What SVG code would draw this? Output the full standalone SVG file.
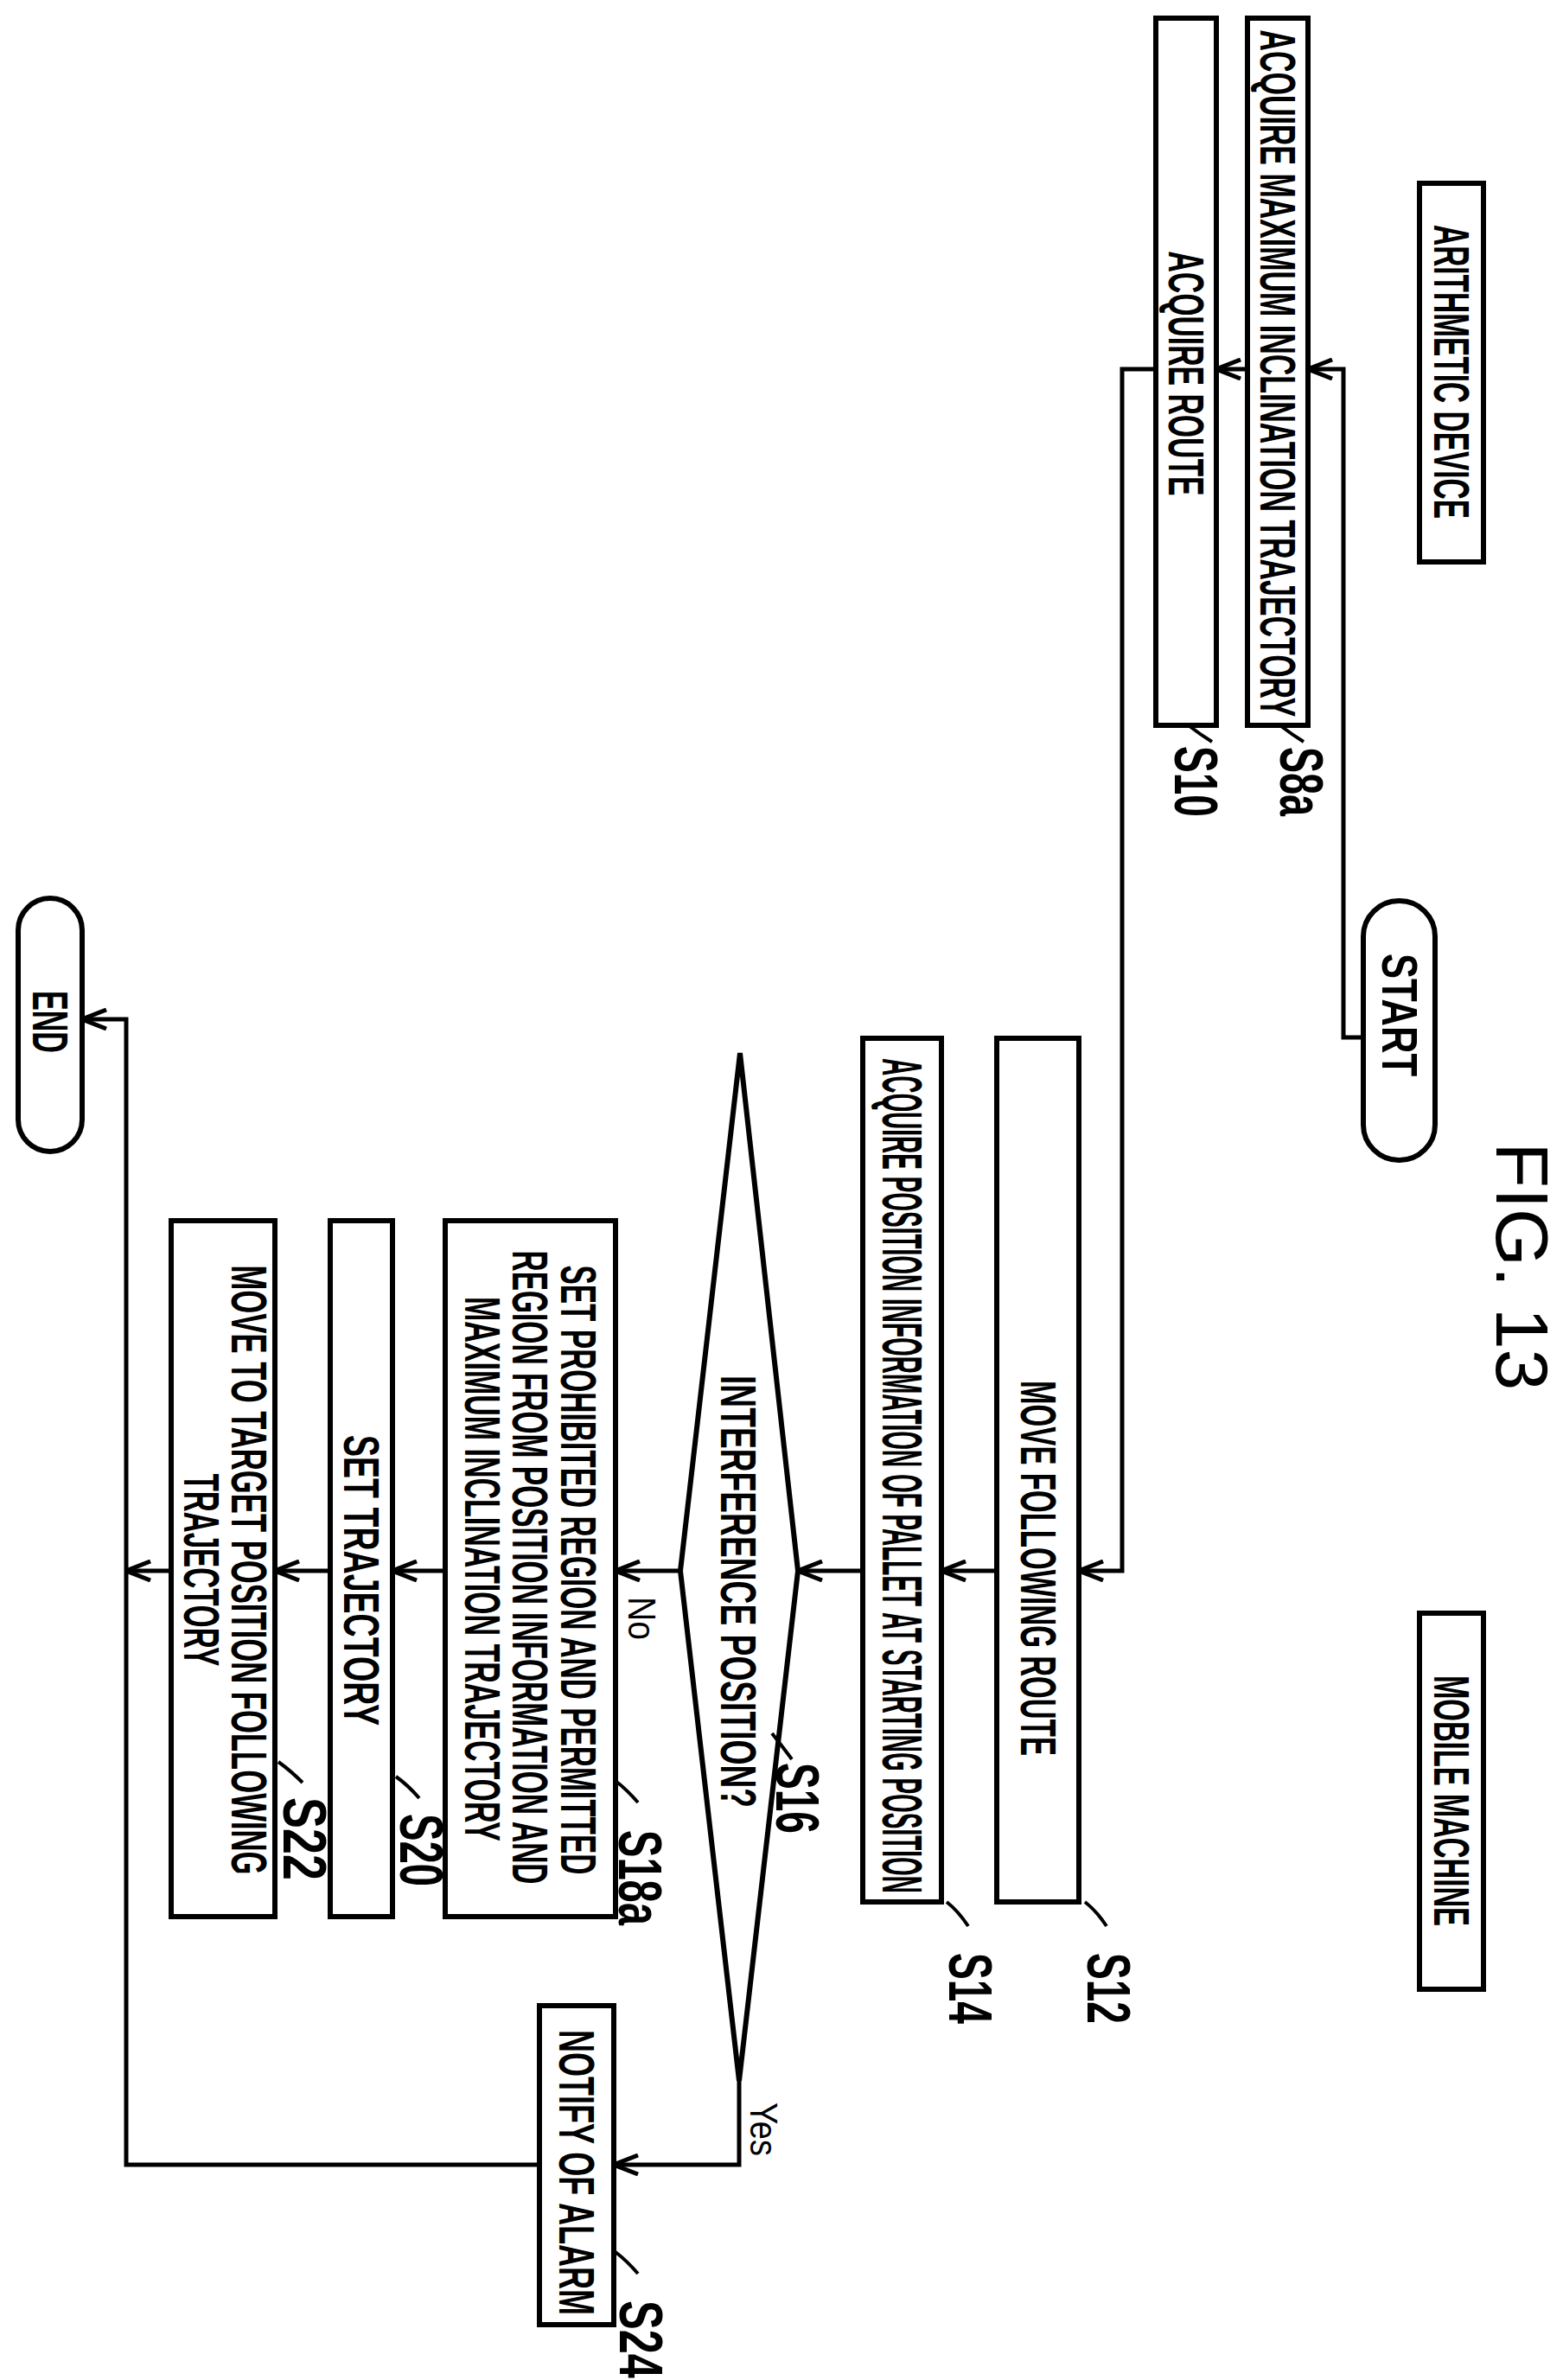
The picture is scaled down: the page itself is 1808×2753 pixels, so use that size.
<svg xmlns="http://www.w3.org/2000/svg" width="1808" height="2753" viewBox="0 0 1808 2753">
<style>
.b{fill:#fff;stroke:#000;stroke-width:6}
.c{fill:none;stroke:#000;stroke-width:5}
.l{fill:none;stroke:#000;stroke-width:4}
text{font-family:"Liberation Sans",Arial,sans-serif;fill:#000;text-anchor:middle;dominant-baseline:central;font-weight:bold}
.t{font-size:58px}
.s{font-size:70px}
</style>
<defs>
<marker id="a" viewBox="0 -13 32 26" refX="30" refY="0" markerWidth="32" markerHeight="26" markerUnits="userSpaceOnUse" orient="auto">
<path d="M2,-11 L30,0 L2,11" fill="none" stroke="#000" stroke-width="5"/>
</marker>
</defs>
<text x="1761" y="1465" font-size="86" style="font-weight:normal" transform="rotate(90 1761 1465)">FIG. 13</text>
<g id="arith"><rect class="b" x="1642" y="212" width="74" height="438"/><text class="t" x="1679" y="430" textLength="340" lengthAdjust="spacingAndGlyphs" transform="rotate(90 1679 430)">ARITHMETIC DEVICE</text></g>
<g id="mobile"><rect class="b" x="1642" y="1866" width="74" height="435"/><text class="t" x="1679" y="2083" textLength="290" lengthAdjust="spacingAndGlyphs" transform="rotate(90 1679 2083)">MOBILE MACHINE</text></g>
<g id="start"><rect class="b" x="1577" y="1042" width="83" height="300" rx="41"/><text class="t" x="1619" y="1174" textLength="142" lengthAdjust="spacingAndGlyphs" transform="rotate(90 1619 1174)">START</text></g>
<g id="s8a"><rect class="b" x="1443" y="21" width="70" height="818"/><text class="t" x="1478" y="432" textLength="795" lengthAdjust="spacingAndGlyphs" transform="rotate(90 1478 432)">ACQUIRE MAXIMUM INCLINATION TRAJECTORY</text>
<path class="l" d="M1482,840 Q1495,850 1508,858"/><text class="s" x="1505" y="904" textLength="80" lengthAdjust="spacingAndGlyphs" transform="rotate(90 1505 904)">S8a</text></g>
<g id="s10"><rect class="b" x="1337" y="21" width="70" height="818"/><text class="t" x="1372" y="432" textLength="283" lengthAdjust="spacingAndGlyphs" transform="rotate(90 1372 432)">ACQUIRE ROUTE</text>
<path class="l" d="M1376,840 Q1389,850 1402,858"/><text class="s" x="1383" y="904" textLength="82" lengthAdjust="spacingAndGlyphs" transform="rotate(90 1383 904)">S10</text></g>
<g id="s12"><rect class="b" x="1153" y="1201" width="95" height="999"/><text class="t" x="1201" y="1814" textLength="434" lengthAdjust="spacingAndGlyphs" transform="rotate(90 1201 1814)">MOVE FOLLOWING ROUTE</text>
<path class="l" d="M1255,2200 Q1268,2210 1280,2228"/><text class="s" x="1282" y="2300" textLength="82" lengthAdjust="spacingAndGlyphs" transform="rotate(90 1282 2300)">S12</text></g>
<g id="s14"><rect class="b" x="998" y="1201" width="91" height="999"/><text x="1043" y="1707" font-size="64" textLength="966" lengthAdjust="spacingAndGlyphs" transform="rotate(90 1043 1707)">ACQUIRE POSITION INFORMATION OF PALLET AT STARTING POSITION</text>
<path class="l" d="M1095,2200 Q1108,2210 1120,2228"/><text class="s" x="1122" y="2300" textLength="82" lengthAdjust="spacingAndGlyphs" transform="rotate(90 1122 2300)">S14</text></g>
<g id="s16"><path class="b" d="M856,1218 L923,1817 L855,2407 L787,1817 Z"/><text class="t" x="854" y="1841" textLength="500" lengthAdjust="spacingAndGlyphs" transform="rotate(90 854 1841)">INTERFERENCE POSITION?</text>
<path class="l" d="M893,2005 Q905,2020 916,2035"/><text class="s" x="922" y="2080" textLength="82" lengthAdjust="spacingAndGlyphs" transform="rotate(90 922 2080)">S16</text></g>
<g id="s18a"><rect class="b" x="515" y="1412" width="197" height="805"/>
<text class="t" x="669" y="1816" textLength="705" lengthAdjust="spacingAndGlyphs" transform="rotate(90 669 1816)">SET PROHIBITED REGION AND PERMITTED</text>
<text class="t" x="613" y="1813" textLength="733" lengthAdjust="spacingAndGlyphs" transform="rotate(90 613 1813)">REGION FROM POSITION INFORMATION AND</text>
<text class="t" x="558" y="1815" textLength="630" lengthAdjust="spacingAndGlyphs" transform="rotate(90 558 1815)">MAXIMUM INCLINATION TRAJECTORY</text>
<path class="l" d="M712,2060 Q725,2070 738,2085"/><text class="s" x="740" y="2172" textLength="110" lengthAdjust="spacingAndGlyphs" transform="rotate(90 740 2172)">S18a</text></g>
<g id="s20"><rect class="b" x="382" y="1412" width="72" height="805"/><text class="t" x="418" y="1828" textLength="336" lengthAdjust="spacingAndGlyphs" transform="rotate(90 418 1828)">SET TRAJECTORY</text>
<path class="l" d="M458,2055 Q472,2065 485,2080"/><text class="s" x="487" y="2140" textLength="84" lengthAdjust="spacingAndGlyphs" transform="rotate(90 487 2140)">S20</text></g>
<g id="s22"><rect class="b" x="198" y="1412" width="120" height="805"/>
<text class="t" x="288" y="1816" textLength="705" lengthAdjust="spacingAndGlyphs" transform="rotate(90 288 1816)">MOVE TO TARGET POSITION FOLLOWING</text>
<text class="t" x="233" y="1816" textLength="223" lengthAdjust="spacingAndGlyphs" transform="rotate(90 233 1816)">TRAJECTORY</text>
<path class="l" d="M322,2038 Q336,2048 350,2062"/><text class="s" x="352" y="2127" textLength="96" lengthAdjust="spacingAndGlyphs" transform="rotate(90 352 2127)">S22</text></g>
<g id="s24"><rect class="b" x="624" y="2320" width="86" height="369"/><text class="t" x="667" y="2513" textLength="330" lengthAdjust="spacingAndGlyphs" transform="rotate(90 667 2513)">NOTIFY OF ALARM</text>
<path class="l" d="M712,2605 Q725,2615 738,2630"/><text class="s" x="741" y="2706" textLength="90" lengthAdjust="spacingAndGlyphs" transform="rotate(90 741 2706)">S24</text></g>
<g id="end"><rect class="b" x="21" y="1039" width="74" height="293" rx="37"/><text class="t" x="58" y="1182" textLength="72" lengthAdjust="spacingAndGlyphs" transform="rotate(90 58 1182)">END</text></g>
<g id="connectors">
<path class="c" d="M1577,1200 H1554 V427 H1513" marker-end="url(#a)"/>
<path class="c" d="M1443,427 H1407" marker-end="url(#a)"/>
<path class="c" d="M1337,427 H1298 V1817 H1248" marker-end="url(#a)"/>
<path class="c" d="M1153,1817 H1089" marker-end="url(#a)"/>
<path class="c" d="M998,1817 H923" marker-end="url(#a)"/>
<path class="c" d="M787,1817 H712" marker-end="url(#a)"/>
<path class="c" d="M515,1817 H454" marker-end="url(#a)"/>
<path class="c" d="M382,1817 H318" marker-end="url(#a)"/>
<path class="c" d="M198,1817 H146" marker-end="url(#a)"/>
<path class="c" d="M855,2407 V2504 H710" marker-end="url(#a)"/>
<path class="c" d="M624,2504 H146 V1179 H95" marker-end="url(#a)"/>
<text x="742" y="1872" font-size="44" style="font-weight:normal" textLength="50" lengthAdjust="spacingAndGlyphs" transform="rotate(90 742 1872)">No</text>
<text x="883" y="2463" font-size="44" style="font-weight:normal" textLength="62" lengthAdjust="spacingAndGlyphs" transform="rotate(90 883 2463)">Yes</text>
</g>
</svg>
